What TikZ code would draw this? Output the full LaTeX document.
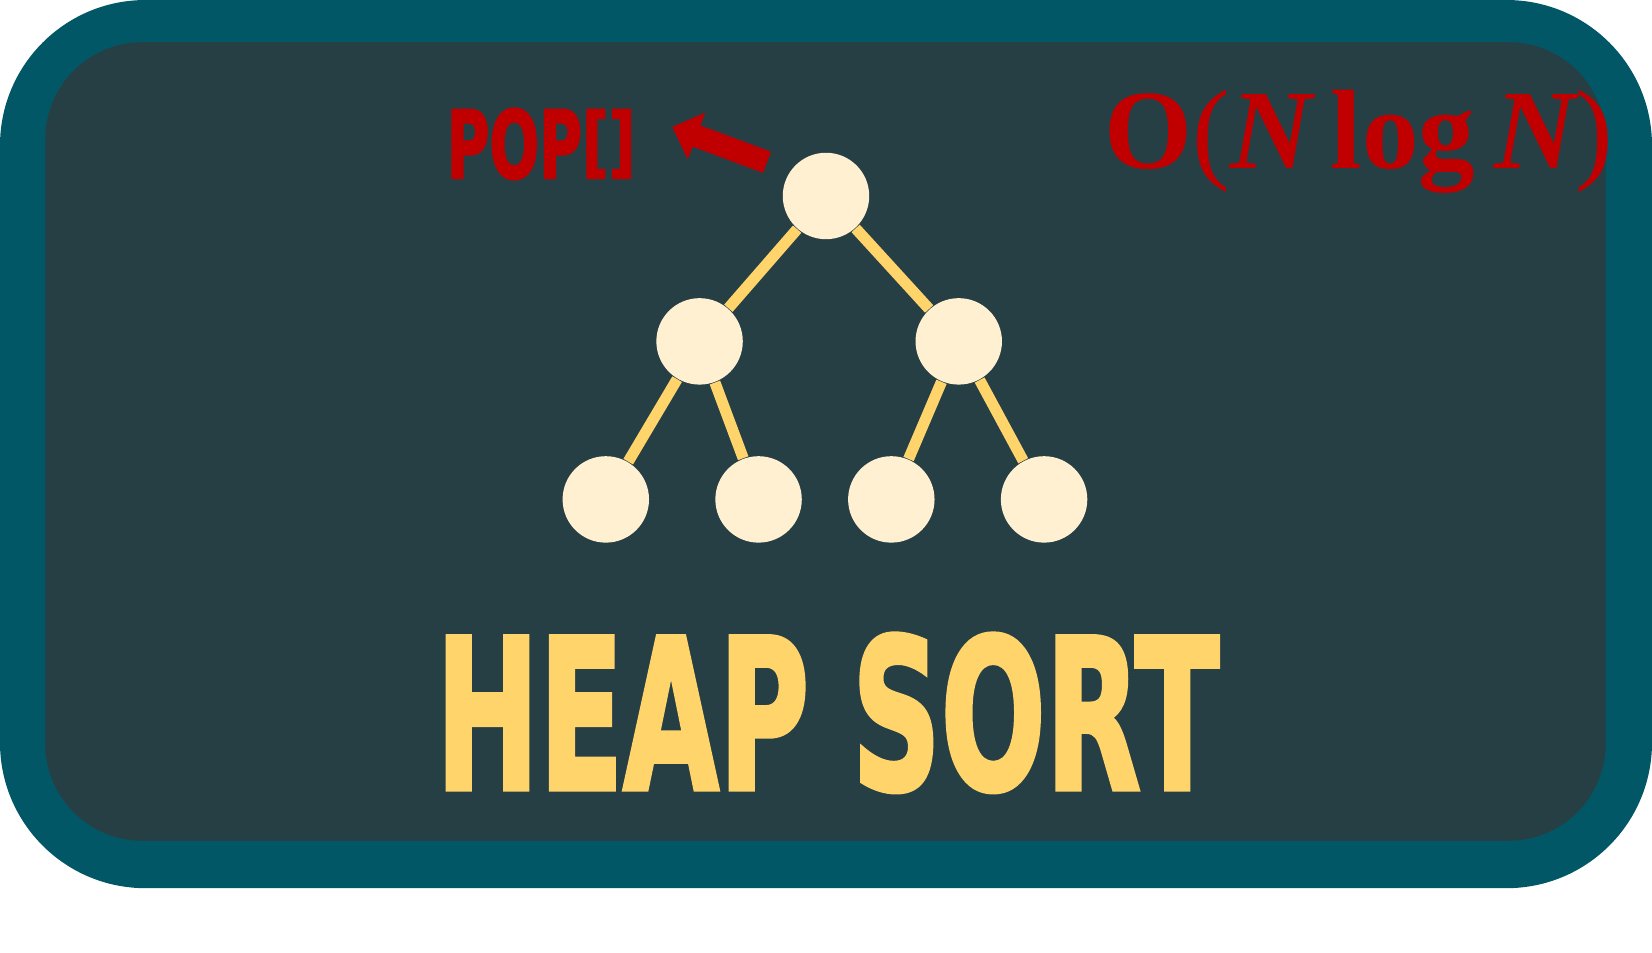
\documentclass[tikz,border=0pt]{standalone}
\usepackage{fontspec}
\usepackage{graphicx}
\usetikzlibrary{arrows.meta}
\newfontfamily\blockfont{DejaVu Sans Bold}[FakeBold=2.5]
\newfontfamily\costfont{Liberation Serif Bold}
\newfontfamily\costitfont{Liberation Serif Bold Italic}
\newfontfamily\parenfont{Liberation Serif}
\definecolor{frame}{HTML}{025767}
\definecolor{panel}{HTML}{263F45}
\definecolor{heapred}{HTML}{C00000}
\definecolor{heapyellow}{HTML}{FFD46B}
\definecolor{nodecream}{HTML}{FFF0D2}
\newcommand\poplabel{\resizebox{1.79cm}{0.66cm}{\blockfont
  POP\raisebox{0.107em}{\scalebox{1}[0.82]{[]}}}}
\newcommand\costlabel{\fontsize{30.5}{32}\selectfont
  {\costfont O}{\parenfont(}{\costitfont N}\,{\costfont log}\,{\costitfont N}{\parenfont)}}
\newcommand\titlelabel{\resizebox{7.43cm}{1.47cm}{\blockfont HEAP SORT}}

\begin{document}
\begin{tikzpicture}[x=0.01cm,y=-0.01cm,
    heapnode/.style={circle,fill=nodecream,minimum size=0.82cm,inner sep=0pt},
    heapedge/.style={heapyellow,line width=3pt}]
    \useasboundingbox (0,0) rectangle (1568,904.5);
    \fill[frame,rounded corners=1.38cm] (0,0) rectangle (1568,843);
    \fill[panel,rounded corners=0.92cm] (43,40) rectangle (1524,798);
    % the heap
    \node[heapnode] (n1) at (784,186) {};
    \node[heapnode] (n2) at (664,324) {};
    \node[heapnode] (n3) at (910,324) {};
    \node[heapnode] (n4) at (575,474) {};
    \node[heapnode] (n5) at (720,474) {};
    \node[heapnode] (n6) at (846,474) {};
    \node[heapnode] (n7) at (991,474) {};
    \draw[heapedge] (n1) -- (n2);
    \draw[heapedge] (n1) -- (n3);
    \draw[heapedge] (n2) -- (n4);
    \draw[heapedge] (n2) -- (n5);
    \draw[heapedge] (n3) -- (n6);
    \draw[heapedge] (n3) -- (n7);
    % pop arrow
    \coordinate (tail) at (728,154);
    \coordinate (tip) at (638,120.5);
    \draw[heapred,line width=6.1pt,-{Triangle[length=7pt,width=13pt]}] (tail) -- (tip);
    \node[heapred,anchor=base,inner sep=0pt] (pop) at (513.5,169) {\poplabel};
    \node[heapred,anchor=base west,inner sep=0pt] (cost) at (1048,160) {\costlabel};
    \node[heapyellow,anchor=north west,inner sep=0pt] (title) at (413,601) {\titlelabel};
\end{tikzpicture}
\end{document}
